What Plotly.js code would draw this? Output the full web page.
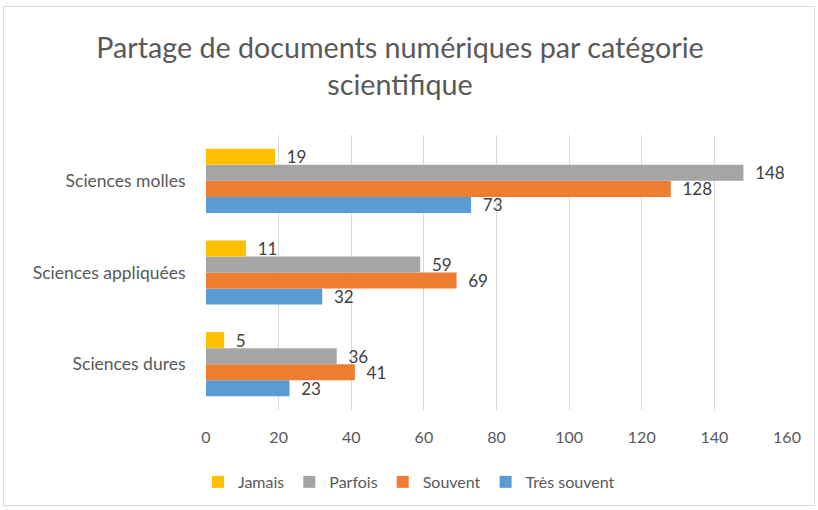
<!DOCTYPE html>
<html>
<head>
<meta charset="utf-8">
<script src="https://cdn.plot.ly/plotly-3.0.1.min.js"></script>
<style>
html,body{margin:0;padding:0;background:#fff;}
#frame{position:absolute;left:3px;top:6px;width:812px;height:500px;border:1px solid #d9d9d9;box-sizing:border-box;}
#chart{position:absolute;left:0;top:0;width:818px;height:510px;}
</style>
</head>
<body>
<div id="frame"></div>
<div id="chart"></div>
<script>
const categories = ['Sciences dures', 'Sciences appliquées', 'Sciences molles'];
const tresSouvent = [23, 32, 73];
const souvent = [41, 69, 128];
const parfois = [36, 59, 148];
const jamais = [5, 11, 19];
const xTicks = [0, 20, 40, 60, 80, 100, 120, 140, 160];

const seriesNames = ['Très souvent', 'Souvent', 'Parfois', 'Jamais'];
const seriesValues = [tresSouvent, souvent, parfois, jamais];
const seriesColors = ['#5B9BD5', '#ED7D31', '#A5A5A5', '#FFC000'];

const traces = seriesNames.map((name, i) => ({
  type: 'bar',
  orientation: 'h',
  name: name,
  y: categories,
  x: seriesValues[i],
  marker: {color: seriesColors[i]},
  text: seriesValues[i].map(v => String(v)),
  texttemplate: '  %{text}',
  textposition: 'outside',
  constraintext: 'none',
  cliponaxis: false,
  textfont: {family: 'Lato, sans-serif', size: 17, color: '#404040'},
  hoverinfo: 'none'
}));

const layout = {
  width: 818,
  height: 510,
  paper_bgcolor: 'rgba(0,0,0,0)',
  plot_bgcolor: 'rgba(0,0,0,0)',
  margin: {l: 206, r: 31, t: 135, b: 100},
  barmode: 'group',
  bargap: 0.3,
  bargroupgap: 0,
  title: {
    text: 'Partage de documents numériques par catégorie<br>scientifique',
    x: 0.489,
    xanchor: 'center',
    xref: 'container',
    y: 0.886,
    yref: 'container',
    yanchor: 'middle',
    font: {family: 'Lato, sans-serif', size: 28.7, color: '#595959'}
  },
  xaxis: {
    range: [0, 160],
    tickvals: xTicks,
    ticktext: xTicks.map(String),
    showgrid: true,
    gridcolor: '#d9d9d9',
    gridwidth: 1,
    zeroline: false,
    showline: false,
    ticks: 'outside',
    ticklen: 13,
    tickcolor: 'rgba(0,0,0,0)',
    tickfont: {family: 'Lato, sans-serif', size: 16, color: '#595959'},
    fixedrange: true
  },
  yaxis: {
    type: 'category',
    categoryorder: 'array',
    categoryarray: categories,
    showgrid: false,
    zeroline: false,
    showline: false,
    ticks: 'outside',
    ticklen: 16,
    tickcolor: 'rgba(0,0,0,0)',
    tickfont: {family: 'Lato, sans-serif', size: 17.5, color: '#595959'},
    fixedrange: true
  },
  legend: {
    orientation: 'h',
    traceorder: 'reversed',
    x: 0.242,
    xanchor: 'left',
    xref: 'container',
    y: 0.055,
    yref: 'container',
    yanchor: 'middle',
    font: {family: 'Lato, sans-serif', size: 16, color: '#595959'},
    itemwidth: 30
  },
  showlegend: true
};

Plotly.newPlot('chart', traces, layout, {displayModeBar: false, staticPlot: true});
</script>
</body>
</html>
